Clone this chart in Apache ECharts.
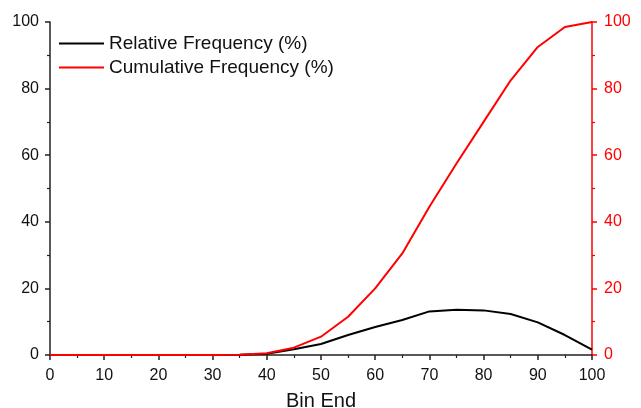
<!DOCTYPE html>
<html>
<head>
<meta charset="utf-8">
<script src="https://cdn.jsdelivr.net/npm/echarts@6/dist/echarts.min.js"></script>
<style>
  html, body { margin: 0; padding: 0; background: #fff; }
  #chart { width: 641px; height: 408px; }
</style>
</head>
<body>
<div id="chart"></div>
<script>
// bin ends and frequencies
const binEnds = [0, 5, 10, 15, 20, 25, 30, 35, 40, 45, 50, 55, 60, 65, 70, 75, 80, 85, 90, 95, 100];
const relativeFreq = [0, 0, 0, 0, 0, 0, 0, 0.1, 0.4, 1.7, 3.3, 6.0, 8.4, 10.5, 13.1, 13.6, 13.4, 12.3, 9.8, 6.0, 1.6];
const cumulativeFreq = [0, 0, 0, 0, 0, 0, 0, 0.1, 0.5, 2.2, 5.5, 11.5, 20, 30.5, 44.5, 57.5, 70, 82.5, 92.5, 98.5, 100];

const chart = echarts.init(document.getElementById('chart'));

const font = 'Liberation Sans, Arial, sans-serif';

const option = {
  animation: false,
  backgroundColor: '#fff',
  grid: { left: 50, right: 49, top: 22, bottom: 53, containLabel: false, outerBoundsMode: 'none' },
  legend: {
    orient: 'vertical',
    left: 54,
    top: 29,
    itemWidth: 45,
    itemHeight: 2,
    itemGap: 5,
    icon: 'rect',
    textStyle: { fontFamily: font, fontSize: 19, color: '#111' },
    data: ['Relative Frequency (%)', 'Cumulative Frequency (%)']
  },
  xAxis: {
    type: 'value',
    min: 0,
    max: 100,
    interval: 10,
    name: 'Bin End',
    nameLocation: 'middle',
    nameGap: 36,
    nameTextStyle: { fontFamily: font, fontSize: 20, color: '#111' },
    axisLine: { lineStyle: { color: '#222', width: 1.5 } },
    axisTick: { show: true, length: 5, lineStyle: { color: '#222', width: 1.5 } },
    minorTick: { show: true, splitNumber: 2, length: 3, lineStyle: { color: '#222', width: 1.2 } },
    axisLabel: { fontFamily: font, fontSize: 16, color: '#111', margin: 13 },
    splitLine: { show: false }
  },
  yAxis: [
    {
      type: 'value',
      min: 0,
      max: 100,
      interval: 20,
      position: 'left',
      axisLine: { show: true, lineStyle: { color: '#222', width: 1.5 } },
      axisTick: { show: true, length: 5, lineStyle: { color: '#222', width: 1.5 } },
      minorTick: { show: true, splitNumber: 2, length: 3, lineStyle: { color: '#222', width: 1.2 } },
      axisLabel: { fontFamily: font, fontSize: 16, color: '#111', margin: 11 },
      splitLine: { show: false }
    },
    {
      type: 'value',
      min: 0,
      max: 100,
      interval: 20,
      position: 'right',
      axisLine: { show: true, lineStyle: { color: '#f00', width: 1.5 } },
      axisTick: { show: true, length: 5, lineStyle: { color: '#f00', width: 1.5 } },
      minorTick: { show: true, splitNumber: 2, length: 3, lineStyle: { color: '#f00', width: 1.2 } },
      axisLabel: { fontFamily: font, fontSize: 16, color: '#f00', margin: 12 },
      splitLine: { show: false }
    }
  ],
  series: [
    {
      name: 'Relative Frequency (%)',
      type: 'line',
      yAxisIndex: 0,
      symbol: 'none',
      color: '#000',
      lineStyle: { color: '#000', width: 2 },
      data: binEnds.map((x, i) => [x, relativeFreq[i]])
    },
    {
      name: 'Cumulative Frequency (%)',
      type: 'line',
      yAxisIndex: 1,
      symbol: 'none',
      color: '#f00',
      lineStyle: { color: '#f00', width: 2 },
      data: binEnds.map((x, i) => [x, cumulativeFreq[i]])
    }
  ]
};

chart.setOption(option);
</script>
</body>
</html>
